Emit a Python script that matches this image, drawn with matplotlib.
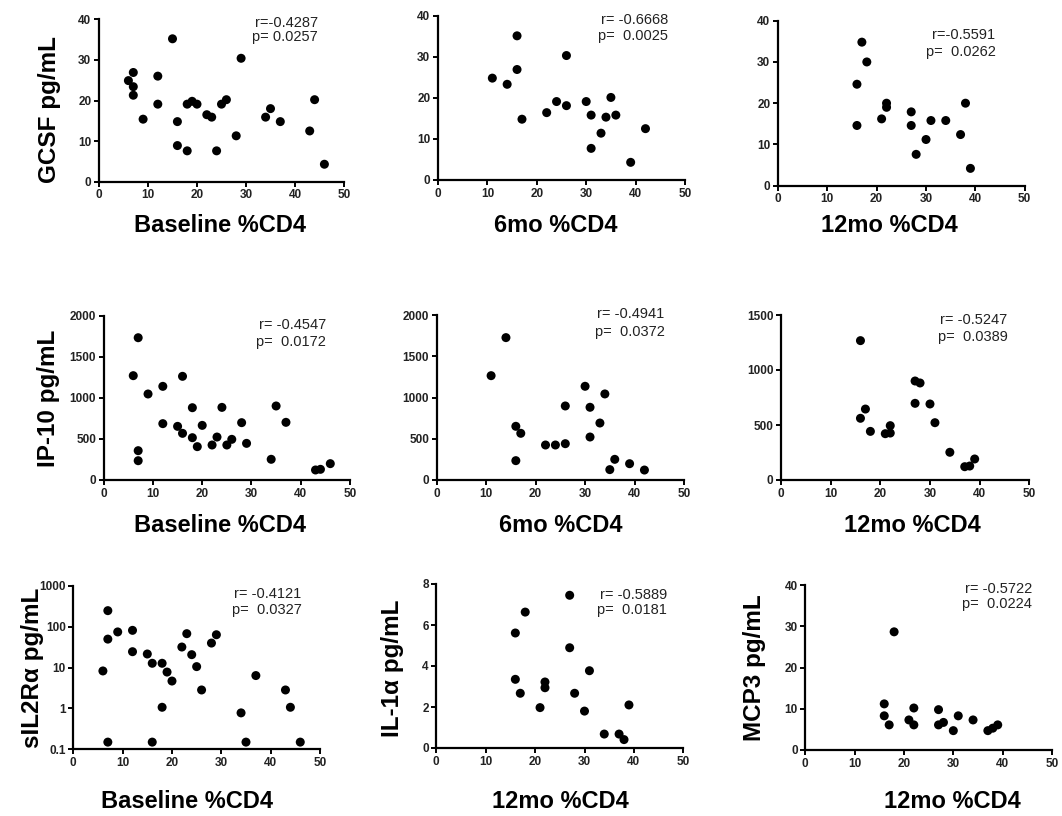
import numpy as np
import matplotlib
matplotlib.use('Agg')
from matplotlib import pyplot as plt

plt.rcParams['font.family'] = ['Liberation Sans', 'DejaVu Sans']

# ---- data ----
gcsf_base_x = [6, 7, 7, 7, 9, 12, 12, 15, 16, 16, 18, 18, 19, 20, 22, 23, 24, 25, 26, 28, 29, 34, 35, 37, 43, 44, 46]
gcsf_base_y = [24.9, 26.9, 23.4, 21.3, 15.4, 26.0, 19.1, 35.2, 14.8, 8.9, 7.6, 19.1, 19.8, 19.1, 16.5, 15.9, 7.6, 19.1, 20.2, 11.3, 30.4, 15.9, 18.0, 14.8, 12.5, 20.2, 4.3]

gcsf_6mo_x = [11, 14, 16, 16, 17, 22, 24, 26, 26, 30, 31, 31, 33, 34, 35, 36, 39, 42]
gcsf_6mo_y = [24.8, 23.3, 35.1, 26.9, 14.8, 16.4, 19.1, 30.3, 18.1, 19.1, 15.8, 7.7, 11.4, 15.3, 20.1, 15.8, 4.3, 12.5]

gcsf_12mo_x = [16, 16, 17, 18, 21, 22, 22, 27, 27, 28, 30, 31, 34, 37, 38, 39]
gcsf_12mo_y = [24.6, 14.6, 34.8, 30.0, 16.2, 20.0, 19.0, 17.9, 14.6, 7.6, 11.2, 15.8, 15.8, 12.4, 20.0, 4.2]

ip10_base_x = [6, 7, 7, 7, 9, 12, 12, 15, 16, 16, 18, 18, 19, 20, 22, 23, 24, 25, 26, 28, 29, 34, 35, 37, 43, 44, 46]
ip10_base_y = [1270, 1732, 357, 235, 1047, 1140, 686, 653, 1262, 568, 880, 515, 406, 665, 426, 523, 884, 426, 495, 698, 446, 252, 901, 702, 122, 130, 199]

ip10_6mo_x = [11, 14, 16, 16, 17, 22, 24, 26, 26, 30, 31, 31, 33, 34, 35, 36, 39, 42]
ip10_6mo_y = [1267, 1729, 652, 235, 567, 425, 425, 899, 441, 1138, 883, 522, 692, 1045, 126, 251, 198, 121]

ip10_12mo_x = [16, 16, 17, 18, 21, 22, 22, 27, 28, 27, 30, 31, 34, 37, 38, 39]
ip10_12mo_y = [1267, 561, 645, 442, 421, 494, 427, 900, 882, 697, 691, 521, 252, 121, 127, 191]

sil2r_base_x = [6, 7, 7, 7, 9, 12, 12, 15, 16, 16, 18, 18, 19, 20, 22, 23, 24, 25, 26, 28, 29, 34, 35, 37, 43, 44, 46]
sil2r_base_y = [8.3, 249, 50, 0.15, 75, 82, 24.6, 21.6, 12.8, 0.15, 12.8, 1.07, 7.8, 4.7, 32, 68, 20.8, 10.6, 2.84, 40, 64, 0.78, 0.15, 6.4, 2.84, 1.07, 0.15]

il1a_12mo_x = [16, 16, 17, 18, 21, 22, 22, 27, 27, 28, 30, 31, 34, 37, 38, 39]
il1a_12mo_y = [5.61, 3.35, 2.67, 6.63, 1.97, 3.22, 2.94, 7.45, 4.89, 2.67, 1.80, 3.77, 0.68, 0.68, 0.41, 2.10]

mcp3_12mo_x = [16, 16, 17, 18, 21, 22, 22, 27, 27, 28, 30, 31, 34, 37, 38, 39]
mcp3_12mo_y = [11.2, 8.3, 6.1, 28.7, 7.3, 6.1, 10.2, 9.8, 6.1, 6.7, 4.7, 8.3, 7.3, 4.7, 5.3, 6.1]

W, H = 1062, 816
fig = plt.figure(figsize=(W / 100, H / 100), dpi=100)


def panel(px, x, y, yticks, rtxt, ptxt, tpos, ylabel=None, ylpos=None,
          xlabel=None, xlpos=None, logy=False, yticklabels=None):
    x0, x1, ytop, ybot = px
    ax = fig.add_axes([x0 / W, (H - ybot) / H, (x1 - x0) / W, (ybot - ytop) / H])
    ax.scatter(x, y, s=42, color='black', edgecolors='none', clip_on=False, zorder=3)
    ax.set_xlim(0, 50)
    ax.set_xticks([0, 10, 20, 30, 40, 50])
    if logy:
        ax.set_yscale('log')
        ax.set_ylim(0.1, 1000)
        ax.minorticks_off()
    else:
        ax.set_ylim(yticks[0], yticks[-1])
    ax.set_yticks(yticks)
    if yticklabels is not None:
        ax.set_yticklabels(yticklabels)
    for s in ['top', 'right']:
        ax.spines[s].set_visible(False)
    for s in ['left', 'bottom']:
        ax.spines[s].set_linewidth(1.6)
    ax.tick_params(direction='out', length=3.5, width=1.4, pad=2,
                   labelsize=8.5, labelcolor='#222222')
    for lb in ax.get_xticklabels() + ax.get_yticklabels():
        lb.set_fontweight('bold')
    ax.patch.set_alpha(0)
    tx, ry, py = tpos
    ax.text(tx, ry, rtxt, transform=ax.transAxes, ha='right', va='center',
            fontsize=10.5, color='#222222')
    ax.text(tx, py, ptxt, transform=ax.transAxes, ha='right', va='center',
            fontsize=10.5, color='#222222')
    if ylabel:
        fig.text(ylpos[0] / W, 1 - ylpos[1] / H, ylabel, rotation=90,
                 ha='center', va='center', fontsize=17.5, fontweight='bold')
    if xlabel:
        fig.text(xlpos[0] / W, 1 - xlpos[1] / H, xlabel,
                 ha='center', va='center', fontsize=17, fontweight='bold')
    return ax


y40 = [0, 10, 20, 30, 40]

panel((99, 344, 19.3, 181.7), gcsf_base_x, gcsf_base_y, y40,
      'r=-0.4287', 'p= 0.0257', (0.894, 0.979, 0.889),
      ylabel='GCSF pg/mL', ylpos=(50, 110),
      xlabel='Baseline %CD4', xlpos=(220, 225))
panel((438, 685, 15.7, 180), gcsf_6mo_x, gcsf_6mo_y, y40,
      'r= -0.6668', 'p=  0.0025', (0.932, 0.974, 0.876),
      xlabel='6mo %CD4', xlpos=(556, 225))
panel((778, 1024.7, 20.7, 185.7), gcsf_12mo_x, gcsf_12mo_y, y40,
      'r=-0.5591', 'p=  0.0262', (0.882, 0.913, 0.812),
      xlabel='12mo %CD4', xlpos=(889, 225))

panel((103.7, 350, 315.7, 480), ip10_base_x, ip10_base_y, [0, 500, 1000, 1500, 2000],
      'r= -0.4547', 'p=  0.0172', (0.903, 0.943, 0.838),
      ylabel='IP-10 pg/mL', ylpos=(48, 398),
      xlabel='Baseline %CD4', xlpos=(220, 525))
panel((436.7, 684, 315.3, 480), ip10_6mo_x, ip10_6mo_y, [0, 500, 1000, 1500, 2000],
      'r= -0.4941', 'p=  0.0372', (0.921, 1.006, 0.901),
      xlabel='6mo %CD4', xlpos=(561, 525))
panel((781, 1029.3, 315, 480), ip10_12mo_x, ip10_12mo_y, [0, 500, 1000, 1500],
      'r= -0.5247', 'p=  0.0389', (0.913, 0.970, 0.865),
      xlabel='12mo %CD4', xlpos=(912, 525))

panel((73.3, 320, 586, 749.3), sil2r_base_x, sil2r_base_y, [0.1, 1, 10, 100, 1000],
      'r= -0.4121', 'p=  0.0327', (0.926, 0.949, 0.853),
      ylabel='sIL2R\u03b1 pg/mL', ylpos=(33, 668),
      xlabel='Baseline %CD4', xlpos=(187, 801), logy=True,
      yticklabels=['0.1', '1', '10', '100', '1000'])
panel((436.3, 683.3, 584, 748), il1a_12mo_x, il1a_12mo_y, [0, 2, 4, 6, 8],
      'r= -0.5889', 'p=  0.0181', (0.933, 0.933, 0.841),
      ylabel='IL-1\u03b1 pg/mL', ylpos=(392, 668),
      xlabel='12mo %CD4', xlpos=(560, 801))
panel((805.3, 1052, 585.3, 750), mcp3_12mo_x, mcp3_12mo_y, y40,
      'r= -0.5722', 'p=  0.0224', (0.920, 0.976, 0.885),
      ylabel='MCP3 pg/mL', ylpos=(755, 668),
      xlabel='12mo %CD4', xlpos=(952, 801))

fig.savefig('out.png', dpi=100, facecolor='white')
